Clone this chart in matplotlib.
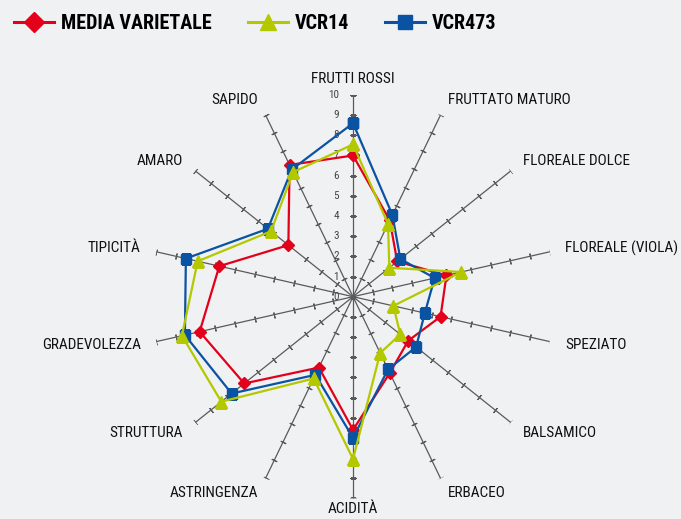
#!/usr/bin/env python3

import matplotlib
matplotlib.use("Agg")
import matplotlib.pyplot as plt
from matplotlib import font_manager as fm
from matplotlib.lines import Line2D
import numpy as np

# Data
categories = ["FRUTTI ROSSI", "FRUTTATO MATURO", "FLOREALE DOLCE", "FLOREALE (VIOLA)",
              "SPEZIATO", "BALSAMICO", "ERBACEO", "ACIDITÀ", "ASTRINGENZA",
              "STRUTTURA", "GRADEVOLEZZA", "TIPICITÀ", "AMARO", "SAPIDO"]
media = [7.0, 4.2, 2.8, 4.75, 4.45, 3.5, 4.2, 6.6, 3.9, 6.9, 7.8, 6.8, 4.1, 7.25]
vcr14 = [7.55, 4.0, 2.3, 5.5, 2.05, 3.0, 3.1, 8.05, 4.5, 8.35, 8.7, 7.9, 5.2, 6.85]
vcr473 = [8.6, 4.5, 3.0, 4.15, 3.65, 4.0, 4.0, 7.0, 4.3, 7.7, 8.55, 8.5, 5.4, 7.0]
rticks = list(range(0, 11))

series_names = ["MEDIA VARIETALE", "VCR14", "VCR473"]

RED = "#e2001a"
GREEN = "#b4c800"
BLUE = "#0a52a2"
GRID = "#5a5a5a"
BG = "#f0f1f3"

# pick a condensed face if one is installed, else shrink the default one
installed = {f.name for f in fm.fontManager.ttflist}
narrow = None
for name in ["Liberation Sans Narrow", "DejaVu Sans Condensed", "Roboto Condensed",
             "Open Sans Condensed", "Noto Sans Condensed", "Arial Narrow"]:
    if name in installed:
        narrow = name
        break
if narrow:
    family = [narrow, "DejaVu Sans"]
    k = 1.0
else:
    family = ["DejaVu Sans"]
    k = 0.82
plt.rcParams['font.family'] = family

fig = plt.figure(figsize=(6.81, 5.19), dpi=100, facecolor=BG)
ax = fig.add_axes([0.2222, 0.0397, 0.5924, 0.7773], projection="polar")
ax.set_facecolor("none")
ax.set_theta_zero_location("N")
ax.set_theta_direction(-1)
ax.set_ylim(0, 10)
ax.grid(False)
ax.set_xticks([])
ax.set_yticks([])
ax.spines["polar"].set_visible(False)

n = len(categories)
theta = np.arange(n) * 2 * np.pi / n

# spokes with small tick marks
for t in theta:
    ax.plot([t, t], [0, 10], color=GRID, lw=0.9, zorder=1)
    ang = 90 - np.degrees(t)
    ax.plot([t] * 10, rticks[1:], linestyle="none", marker=(2, 2, ang),
            markersize=4.3, markeredgewidth=0.8, color=GRID, zorder=1)
ax.plot([0], [0], marker="o", markersize=3, color=GRID, zorder=1)

# radial scale numbers on the top spoke
for r in rticks:
    ax.annotate(str(r), xy=(0, r), xytext=(-10, 0), textcoords="offset points",
                ha="right", va="center", fontsize=8 * k, color="#444444")

# category labels
for t, lab in zip(theta, categories):
    s = np.sin(t)
    rr = 10.8
    if abs(s) < 0.1:
        ha = "center"
        if np.cos(t) < 0:
            rr = 10.55  # keep the bottom label inside the canvas
    elif s > 0:
        ha = "left"
    else:
        ha = "right"
    ax.text(t, rr, lab, ha=ha, va="center", fontsize=11 * k, color="#111111")

tc = np.append(theta, theta[0])


def closed(v):
    return np.append(v, v[0])


ax.plot(tc, closed(media), color=RED, lw=1.6, marker="D", markersize=6.5, zorder=3)
ax.plot(tc, closed(vcr473), color=BLUE, lw=1.6, marker="s", markersize=7.5, zorder=4)
ax.plot(tc, closed(vcr14), color=GREEN, lw=1.6, marker="^", markersize=8.5, zorder=5)

handles = [
    Line2D([], [], color=RED, lw=2.2, marker="D", markersize=10),
    Line2D([], [], color=GREEN, lw=2.2, marker="^", markersize=11),
    Line2D([], [], color=BLUE, lw=2.2, marker="s", markersize=10),
]
fs_leg = 14.5 * k
leg = fig.legend(handles, series_names, loc="upper left", bbox_to_anchor=(0.0, 1.0),
                 ncol=3, frameon=False, handlelength=40 / (fs_leg * 1.389),
                 handletextpad=7 / (fs_leg * 1.389),
                 columnspacing=36 / (fs_leg * 1.389), borderaxespad=0.3,
                 prop={"family": family, "weight": "bold", "size": fs_leg})

fig.savefig("out.png", dpi=100, facecolor=BG)
